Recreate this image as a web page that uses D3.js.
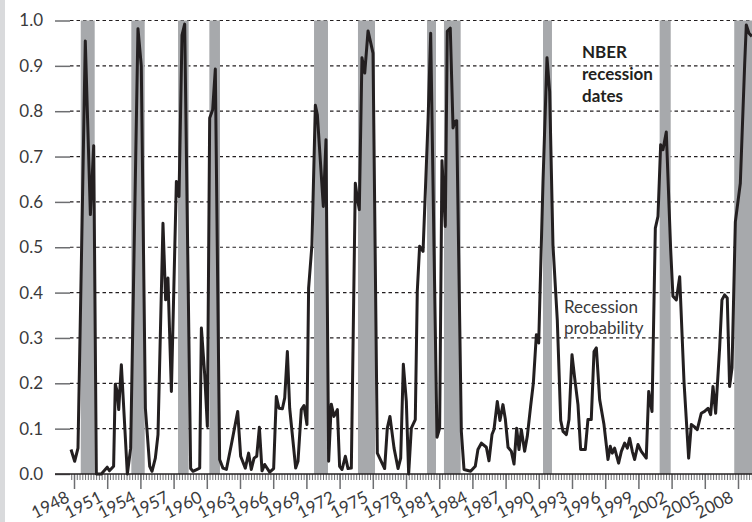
<!DOCTYPE html>
<html><head><meta charset="utf-8">
<script src="https://cdn.jsdelivr.net/npm/d3@7"></script>
<style>
html,body{margin:0;padding:0;background:#fff;}
svg{display:block;}
</style></head>
<body>
<svg id="chart" width="752" height="522"></svg>
<script>
// Recession probability (vertices), decimal years
const years = [1947.73,1948.06,1948.36,1948.69,1949.02,1949.48,1949.78,1950.02,1950.47,1951.0,1951.2,1951.58,1951.73,1951.9,1952.04,1952.28,1952.82,1953.12,1953.78,1954.08,1954.45,1954.84,1955.05,1955.35,1955.59,1956.04,1956.28,1956.49,1956.8,1957.25,1957.49,1957.76,1958.0,1958.54,1958.75,1959.36,1959.51,1959.81,1960.05,1960.26,1960.53,1960.77,1961.16,1961.46,1961.77,1962.22,1962.79,1963.06,1963.48,1963.78,1964.02,1964.27,1964.51,1964.75,1964.99,1965.23,1965.68,1966.04,1966.28,1966.52,1966.83,1967.04,1967.28,1967.49,1967.79,1968.03,1968.24,1968.54,1968.78,1969.05,1969.2,1969.5,1969.81,1969.99,1970.53,1970.77,1971.01,1971.25,1971.49,1971.8,1972.0,1972.22,1972.52,1972.76,1973.06,1973.42,1973.6,1973.78,1974.02,1974.27,1974.57,1975.02,1975.41,1976.07,1976.31,1976.55,1976.92,1977.28,1977.52,1977.76,1978.03,1978.24,1978.48,1978.84,1979.02,1979.23,1979.54,1979.99,1980.23,1980.8,1981.04,1981.25,1981.55,1981.73,1982.0,1982.25,1982.4,1982.58,1983.0,1983.24,1983.84,1984.26,1984.5,1984.81,1985.26,1985.5,1985.77,1985.95,1986.25,1986.49,1986.76,1986.98,1987.22,1987.52,1987.76,1988.0,1988.21,1988.42,1988.72,1988.96,1989.26,1989.51,1989.78,1989.99,1990.38,1990.74,1990.98,1991.28,1991.67,1991.98,1992.19,1992.49,1992.73,1993.0,1993.24,1993.54,1993.78,1994.2,1994.44,1994.74,1994.99,1995.2,1995.5,1995.89,1996.25,1996.46,1996.64,1996.85,1997.21,1997.46,1997.76,1998.0,1998.21,1998.45,1998.66,1998.96,1999.26,1999.71,1999.93,2000.23,2000.53,2000.77,2001.01,2001.22,2001.52,2001.91,2002.12,2002.43,2002.73,2003.12,2003.54,2003.78,2004.02,2004.32,2004.68,2004.98,2005.29,2005.53,2005.74,2005.98,2006.34,2006.55,2006.79,2007.03,2007.24,2007.46,2007.76,2008.21,2008.6,2008.75,2008.99,2009.26];
const probability = [0.054,0.028,0.057,0.50,0.955,0.572,0.724,0.0,0.0,0.015,0.007,0.017,0.198,0.182,0.142,0.241,0.0,0.057,0.982,0.90,0.145,0.017,0.006,0.035,0.087,0.553,0.384,0.432,0.182,0.645,0.612,0.968,0.992,0.012,0.006,0.013,0.322,0.219,0.105,0.785,0.803,0.893,0.032,0.013,0.010,0.065,0.138,0.039,0.013,0.046,0.010,0.035,0.039,0.103,0.007,0.021,0.004,0.012,0.171,0.145,0.144,0.168,0.270,0.145,0.072,0.013,0.028,0.142,0.151,0.109,0.41,0.505,0.813,0.792,0.59,0.737,0.028,0.154,0.127,0.142,0.017,0.010,0.039,0.012,0.013,0.641,0.608,0.583,0.918,0.884,0.977,0.928,0.046,0.012,0.101,0.127,0.057,0.012,0.035,0.242,0.160,0.0,0.101,0.12,0.403,0.502,0.491,0.777,0.972,0.081,0.101,0.691,0.546,0.976,0.983,0.763,0.777,0.779,0.094,0.010,0.006,0.017,0.054,0.068,0.059,0.029,0.087,0.098,0.160,0.118,0.153,0.120,0.059,0.050,0.022,0.101,0.054,0.098,0.050,0.083,0.149,0.201,0.307,0.289,0.645,0.918,0.843,0.505,0.340,0.118,0.094,0.087,0.120,0.263,0.212,0.153,0.054,0.054,0.120,0.120,0.270,0.278,0.164,0.109,0.032,0.061,0.046,0.057,0.024,0.050,0.068,0.057,0.079,0.050,0.032,0.065,0.050,0.035,0.182,0.138,0.542,0.568,0.726,0.715,0.754,0.498,0.392,0.384,0.435,0.204,0.035,0.109,0.105,0.098,0.134,0.138,0.145,0.131,0.193,0.134,0.278,0.384,0.395,0.388,0.193,0.234,0.556,0.641,0.902,0.99,0.972,0.965];

// NBER recession bands (as drawn), decimal years
const recStart = [1948.61,1953.18,1957.40,1960.23,1969.69,1973.66,1979.90,1981.43,1990.38,2000.92,2007.66];
const recEnd   = [1949.87,1954.39,1958.36,1961.19,1970.95,1975.20,1980.71,1982.94,1991.19,2001.92,2009.40];

const yTicks = [0.0,0.1,0.2,0.3,0.4,0.5,0.6,0.7,0.8,0.9,1.0];
const xTickYears = [1948,1951,1954,1957,1960,1963,1966,1969,1972,1975,1978,1981,1984,1987,1990,1993,1996,1999,2002,2005,2008];

const svg = d3.select("#chart");
const W = 752, H = 522;
const x = d3.scaleLinear().domain([1948, 2008]).range([74, 738]);
const y = d3.scaleLinear().domain([0, 1]).range([474, 20.5]);
const plotL = 70, plotR = 752;
const font = "Lato, 'Open Sans', sans-serif";

// left gray strip
svg.append("rect").attr("x",0).attr("y",0).attr("width",5).attr("height",H).attr("fill","#d9dadc");

// dashed gridlines
svg.append("g").selectAll("line").data(yTicks.filter(d=>d>0)).join("line")
  .attr("x1", plotL).attr("x2", plotR)
  .attr("y1", d=>y(d)).attr("y2", d=>y(d))
  .attr("stroke","#231f20").attr("stroke-width",1.2).attr("stroke-dasharray","3.5,3");

// recession bands
svg.append("g").selectAll("rect").data(recStart.map((s,i)=>[s,recEnd[i]])).join("rect")
  .attr("x", d=>x(d[0])).attr("width", d=>Math.min(plotR, x(d[1]))-x(d[0]))
  .attr("y", y(1)).attr("height", y(0)-y(1))
  .attr("fill","#a7a9ac");

// y axis tick marks + labels
const yAxis = d3.axisLeft(y).tickValues(yTicks).tickFormat(d3.format(".1f")).tickSize(15).tickPadding(12);
const yg = svg.append("g").attr("transform",`translate(${plotL},0)`).call(yAxis);
yg.select(".domain").remove();
yg.selectAll(".tick line").attr("stroke","#6d6e71").attr("stroke-width",1.5);
yg.selectAll(".tick text").attr("font-family",font).attr("font-size",17).attr("fill","#3a3a3c");

// x axis: minor quarterly ticks
const minor = d3.range(1947.75, 2009.3, 0.25);
const xMinor = d3.axisBottom(x).tickValues(minor).tickSize(6).tickFormat("");
const xmg = svg.append("g").attr("transform",`translate(0,${y(0)})`).call(xMinor);
xmg.select(".domain").remove();
xmg.selectAll(".tick line").attr("stroke","#6d6e71").attr("stroke-width",1);

const xAxis = d3.axisBottom(x).tickValues(xTickYears).tickSize(15).tickFormat(d3.format("d"));
const xg = svg.append("g").attr("transform",`translate(0,${y(0)})`).call(xAxis);
xg.select(".domain").remove();
xg.selectAll(".tick line").attr("stroke","#6d6e71").attr("stroke-width",1.5);
xg.selectAll(".tick text")
  .attr("font-family",font).attr("font-size",17).attr("fill","#3a3a3c")
  .attr("text-anchor","end").attr("y",0).attr("dy",0)
  .attr("transform","translate(-4,27) rotate(-27)");

// baseline
svg.append("line").attr("x1",55).attr("x2",plotR).attr("y1",y(0)).attr("y2",y(0))
  .attr("stroke","#231f20").attr("stroke-width",1.5);

// probability line
const line = d3.line().x((d,i)=>x(years[i])).y(d=>y(d));
svg.append("path").datum(probability).attr("d", line)
  .attr("fill","none").attr("stroke","#231f20").attr("stroke-width",3).attr("stroke-linejoin","round");

// annotations
const nb = svg.append("text").attr("font-family",font).attr("font-size",17).attr("font-weight","bold").attr("fill","#231f20");
["NBER","recession","dates"].forEach((t,i)=>nb.append("tspan").attr("x",582).attr("y",58+i*22).text(t));
const rp = svg.append("text").attr("font-family",font).attr("font-size",17).attr("fill","#3a3a3c");
["Recession","probability"].forEach((t,i)=>rp.append("tspan").attr("x",564).attr("y",313+i*21).text(t));
</script>
</body></html>
